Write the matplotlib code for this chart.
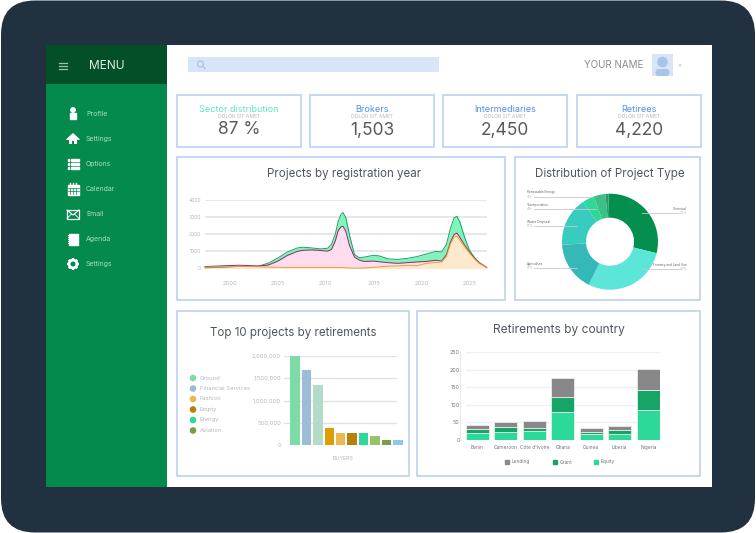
#!/usr/bin/env python3
"""Dashboard mockup: sidebar, KPI cards and four charts inside a dark frame."""
import numpy as np
import matplotlib
matplotlib.use("Agg")
import matplotlib.pyplot as plt
from matplotlib.patches import Circle, FancyBboxPatch, Polygon, Rectangle

W, H = 756, 533

FRAME = "#223140"
SIDE = "#048a4c"
SIDE_DARK = "#034f28"
BORDER = "#c5d8f3"
INK = "#4f5660"
SOFT = "#b4b8bd"
GRID = "#e2e2e2"

MENU_ITEMS = ["Profile", "Settings", "Options", "Calendar", "Email", "Agenda", "Settings"]

KPI_TITLES = ["Sector distribution", "Brokers", "Intermediaries", "Retirees"]
KPI_VALUES = ["87 %", "1,503", "2,450", "4,220"]
KPI_COLORS = ["#5fe3c8", "#4f8ff2", "#4f8ff2", "#4f8ff2"]

YEARS = [1997.4, 1999, 2001, 2003, 2004, 2005, 2006, 2007, 2007.6, 2008.5, 2009.5, 2010.2,
         2010.6, 2011, 2011.3, 2011.6, 2011.8, 2012.1, 2012.5, 2013, 2013.5, 2014, 2015,
         2015.6, 2016.5, 2017.5, 2018.5, 2019.5, 2020.5, 2021.5, 2022.1, 2022.6, 2023,
         2023.4, 2023.7, 2024, 2024.5, 2025, 2025.5, 2026, 2026.8]
AREA_TOTAL = [30, 60, 110, 130, 300, 600, 950, 1180, 1230, 1190, 1130, 1170,
              1400, 2000, 2750, 3150, 3250, 2950, 1900, 800, 620, 650, 760,
              720, 550, 520, 580, 680, 830, 990, 950, 1400, 2300,
              2950, 3030, 2700, 1800, 1050, 650, 350, 50]
AREA_MIDDLE = [100, 140, 180, 130, 190, 420, 750, 980, 1050, 1070, 1040, 1000,
               1100, 1600, 2200, 2420, 2450, 2150, 1300, 650, 480, 400, 420,
               380, 330, 290, 330, 370, 400, 470, 420, 800, 1500,
               1980, 2050, 1800, 1350, 950, 600, 320, 50]
AREA_LOWER = [60, 90, 110, 90, 70, 60, 50, 50, 50, 50, 50, 50,
              50, 50, 50, 40, 40, 30, 20, 10, 10, 20, 60,
              90, 120, 140, 170, 150, 290, 340, 370, 700, 1400,
              1830, 1880, 1650, 1250, 900, 560, 300, 50]
AREA_TICKS = [2000, 2005, 2010, 2015, 2020, 2025]

TYPE_NAMES = ["Chemical", "Forestry and Land Use", "Agriculture", "Waste Disposal",
              "Transportation", "Renewable Energy", "Other"]
TYPE_SHARES = [30, 29, 17, 17, 4, 4, 1]
TYPE_COLORS = ["#048f4e", "#5ce6d8", "#34b8b8", "#38cbbf", "#2dd996", "#3cc088", "#2c9a6c"]

TOP_VALUES = [2000000, 1680000, 1350000, 380000, 270000, 270000, 270000, 200000, 120000, 120000]
TOP_COLORS = ["#7ddba8", "#9dbdd6", "#b2dcc8", "#dc9d05", "#ecb84f",
              "#b97f0a", "#2dd899", "#93c466", "#779f45", "#8dc8ec"]
TOP_LEGEND = ["Ground", "Financial Services", "Fashion", "Empty", "Energy", "Aviation"]
TOP_LEGEND_COLORS = ["#7ddba8", "#9dbdd6", "#ecb84f", "#b97f0a", "#2dd899", "#779f45"]

COUNTRIES = ["Benin", "Cameroon", "Côte d'Ivoire", "Ghana", "Guinea", "Liberia", "Nigeria"]
EQUITY = [20, 22, 24, 79, 15, 17, 86]
GRANT = [10, 13, 9, 43, 7, 11, 55]
LENDING = [13, 15, 19, 54, 10, 11, 61]

plt.rcParams.update({
    "font.family": ["Inter", "DejaVu Sans"],
    "axes.spines.top": False,
    "axes.spines.right": False,
    "axes.spines.left": False,
    "axes.spines.bottom": False,
})


def px_axes(fig, x0, y0, x1, y1, zorder=1):
    ax = fig.add_axes([x0 / W, 1 - y1 / H, (x1 - x0) / W, (y1 - y0) / H], zorder=zorder)
    ax.patch.set_alpha(0)
    return ax


def draw_icon(ax, i, x, y):
    c = "white"
    if i == 0:
        ax.add_patch(Circle((x, y - 4), 2.2, color=c))
        ax.add_patch(Rectangle((x - 3, y - 1.5), 6, 6.5, color=c))
    elif i == 1:
        ax.add_patch(Polygon([(x - 6.5, y + 0.5), (x, y - 5.5), (x + 6.5, y + 0.5)], fc=c, ec=c, lw=0.6))
        ax.add_patch(Rectangle((x - 4, y), 8, 5, fc=c, ec="none"))
        ax.add_patch(Rectangle((x - 1.2, y + 1.5), 2.4, 3.5, fc=SIDE, ec="none"))
    elif i == 2:
        for dy in (-4, 0, 4):
            ax.add_patch(Rectangle((x - 5.5, y + dy - 0.8), 1.6, 1.6, color=c))
            ax.add_patch(Rectangle((x - 2.5, y + dy - 0.8), 8, 1.6, color=c))
    elif i == 3:
        ax.add_patch(Rectangle((x - 5.5, y - 4.5), 11, 10, color=c))
        for dx in (-3, 0, 3):
            ax.plot([x + dx, x + dx], [y - 1, y + 5], color=SIDE, lw=0.5)
            ax.plot([x + dx, x + dx], [y - 6, y - 4], color=c, lw=1)
        for dy in (-1, 2):
            ax.plot([x - 5.5, x + 5.5], [y + dy, y + dy], color=SIDE, lw=0.5)
    elif i == 4:
        ax.add_patch(Rectangle((x - 6, y - 4), 12, 8.5, fc="none", ec=c, lw=0.9))
        ax.plot([x - 6, x, x + 6], [y - 4, y + 1, y - 4], color=c, lw=0.8)
        ax.plot([x - 6, x - 1.5], [y + 4.5, y], color=c, lw=0.6)
        ax.plot([x + 6, x + 1.5], [y + 4.5, y], color=c, lw=0.6)
    elif i == 5:
        ax.add_patch(Rectangle((x - 4, y - 5.5), 9, 11, color=c))
        for dy in (-4, -2, 0, 2, 4):
            ax.plot([x - 5.5, x - 4], [y + dy, y + dy], color=c, lw=0.7)
    else:
        ax.add_patch(Circle((x, y), 4.6, color=c))
        for ang in np.arange(8) * np.pi / 4:
            ax.plot([x + 3.5 * np.cos(ang), x + 6 * np.cos(ang)],
                    [y + 3.5 * np.sin(ang), y + 6 * np.sin(ang)], color=c, lw=1.6, solid_capstyle="butt")
        ax.add_patch(Circle((x, y), 1.8, color=SIDE))


def card(ax, x0, y0, x1, y1):
    ax.add_patch(Rectangle((x0, y0), x1 - x0, y1 - y0, fc="white", ec=BORDER, lw=1.4))


def draw_layout(fig):
    ax = px_axes(fig, 0, 0, W, H, zorder=0)
    ax.set_xlim(0, W)
    ax.set_ylim(H, 0)
    ax.axis("off")

    ax.add_patch(FancyBboxPatch((1, 0.5), W - 2, H - 1, boxstyle="round,pad=0,rounding_size=34",
                                fc=FRAME, ec=FRAME, lw=0))
    ax.add_patch(Rectangle((46, 45), 666, 442, fc="white", ec="none"))
    ax.add_patch(Rectangle((46, 45), 121, 442, fc=SIDE, ec="none"))
    ax.add_patch(Rectangle((46, 45), 121, 39, fc=SIDE_DARK, ec="none"))

    for dy in (-3, 0, 3):
        ax.plot([59, 66.5], [66 + dy, 66 + dy], color="#9cc4ab", lw=0.9)
    ax.text(89, 66, "MENU", color="#dcefe4", fontsize=8.6, va="center", ha="left")
    for i, name in enumerate(MENU_ITEMS):
        y = 114 + 25 * i
        draw_icon(ax, i, 73, y)
        ax.text(86, y, name, color="#a8dcbd", fontsize=5, va="center", ha="left")

    # top bar
    ax.add_patch(Rectangle((188, 57), 251, 15, fc="#d8e5f8", ec="none"))
    ax.add_patch(Circle((200.5, 64), 3, fc="none", ec="#a9c3e8", lw=0.9))
    ax.plot([202.7, 205], [66.2, 68.5], color="#a9c3e8", lw=0.9)
    ax.text(584, 65.5, "YOUR NAME", color="#8a8a8a", fontsize=7, va="center", ha="left")
    ax.add_patch(Rectangle((652, 54), 21, 22, fc="#d8e5f8", ec="none"))
    ax.add_patch(Circle((662.5, 62), 4.6, color="#aac4e8"))
    ax.add_patch(FancyBboxPatch((655.5, 69), 14, 7, boxstyle="round,pad=0,rounding_size=3", fc="#aac4e8", ec="none"))
    ax.add_patch(Polygon([(678.5, 64.5), (681.5, 64.5), (680, 67)], fc="#a9c3e8", ec="none"))

    # KPI cards
    starts = [177, 310, 443, 577]
    for x0, title, value, color in zip(starts, KPI_TITLES, KPI_VALUES, KPI_COLORS):
        card(ax, x0, 95, x0 + 124, 147)
        cx = x0 + 62
        ax.text(cx, 110, title, color=color, fontsize=6.5, ha="center", va="center")
        ax.text(cx, 116.5, "DOLOR SIT AMET", color=SOFT, fontsize=3.6, ha="center", va="center")
        ax.text(cx, 130, value, color="#5a5a5a", fontsize=12.5, ha="center", va="center")

    # chart cards
    card(ax, 177, 157, 505, 300)
    card(ax, 515, 157, 700, 300)
    card(ax, 177, 311, 409, 476)
    card(ax, 417, 311, 700, 476)
    ax.text(344.5, 174, "Projects by registration year", color=INK, fontsize=8.3, ha="center", va="center")
    ax.text(610, 174, "Distribution of Project Type", color=INK, fontsize=8.3, ha="center", va="center")
    ax.text(293, 333, "Top 10 projects by retirements", color=INK, fontsize=8.3, ha="center", va="center")
    ax.text(559, 330.5, "Retirements by country", color=INK, fontsize=8.6, ha="center", va="center")


def draw_area(fig):
    ax = px_axes(fig, 205, 199.7, 486.7, 268.3)
    series = [(AREA_TOTAL, "#7ff5bb", "#1f9e68"),
              (AREA_MIDDLE, "#ffdcee", "#a0246a"),
              (AREA_LOWER, "#fee9cc", "#f0a030")]
    for vals, fill, edge in series:
        ax.fill_between(YEARS, 0, vals, color=fill, lw=0, zorder=2)
        ax.plot(YEARS, vals, color=edge, lw=0.7, zorder=3, clip_on=False)
    ax.set_xlim(YEARS[0], YEARS[-1])
    ax.set_ylim(0, 4000)
    ax.set_yticks([0, 1000, 2000, 3000, 4000])
    ax.set_xticks(AREA_TICKS)
    ax.grid(axis="y", color=GRID, lw=1.1)
    ax.set_axisbelow(True)
    ax.tick_params(axis="y", length=0, labelsize=3.6, labelcolor=SOFT, pad=3)
    ax.tick_params(axis="x", length=0, labelsize=4.2, labelcolor=SOFT, pad=9.5)


def draw_donut(fig):
    ax = px_axes(fig, 562, 193.7, 658, 289.7)
    ax.pie(TYPE_SHARES, colors=TYPE_COLORS, startangle=92, counterclock=False, radius=1,
           wedgeprops={"width": 0.5, "linewidth": 0})
    ax.set_xlim(-1, 1)
    ax.set_ylim(-1, 1)


def draw_overlay(fig):
    ax = px_axes(fig, 0, 0, W, H, zorder=3)
    ax.set_xlim(0, W)
    ax.set_ylim(H, 0)
    ax.axis("off")
    rows = [(0, 687, 209, 642), (1, 687, 265, 643), (2, 527, 264, 577),
            (3, 527, 222, 577), (4, 527, 205, 596), (5, 527, 192.5, 592)]
    for idx, x, y, end in rows:
        ha = "right" if x > 600 else "left"
        ax.text(x, y, TYPE_NAMES[idx], color="#666666", fontsize=2.3, ha=ha, va="center")
        ax.text(x, y + 4, f"{TYPE_SHARES[idx]}%", color=SOFT, fontsize=2.4, ha=ha, va="center")
        x_line = x + 7 if ha == "left" else x - 7
        ax.plot([x_line, end], [y + 4, y + 4], color="#c9c9c9", lw=0.6)

    # left chart legend
    for i, (name, color) in enumerate(zip(TOP_LEGEND, TOP_LEGEND_COLORS)):
        y = 378 + 10.5 * i
        ax.add_patch(Circle((193, y), 2.6, color=color))
        ax.text(200, y, name, color=SOFT, fontsize=4.2, ha="left", va="center")

    # right chart legend
    for x, name, color in [(507, "Lending", "#888888"), (555, "Grant", "#16a567"), (596, "Equity", "#2dd998")]:
        ax.add_patch(Rectangle((x - 2, 460), 4, 4, color=color))
        ax.text(x + 5, 462, name, color="#777777", fontsize=3.5, ha="left", va="center")


def draw_top(fig):
    ax = px_axes(fig, 284, 356.3, 397, 445)
    x = np.arange(len(TOP_VALUES))
    ax.bar(x, TOP_VALUES, width=0.82, color=TOP_COLORS, zorder=3, clip_on=False)
    ax.set_xlim(-0.96, 8.92)
    ax.set_ylim(0, 2000000)
    ax.set_yticks([0, 500000, 1000000, 1500000, 2000000])
    ax.set_yticklabels(["0", "500,000", "1,000,000", "1,500,000", "2,000,000"])
    ax.set_xticks([])
    ax.grid(axis="y", color=GRID, lw=1)
    ax.set_axisbelow(True)
    ax.tick_params(axis="y", length=0, labelsize=4.2, labelcolor=SOFT, pad=2)
    ax.set_xlabel("BUYERS", fontsize=3.8, color=SOFT)
    ax.xaxis.set_label_coords(0.52, -0.125)


def draw_country(fig):
    ax = px_axes(fig, 466, 352, 660, 439.7)
    x = np.arange(len(COUNTRIES))
    equity = np.array(EQUITY)
    grant = np.array(GRANT)
    lending = np.array(LENDING)
    edge = {"edgecolor": "#f4f4f4", "linewidth": 0.5, "zorder": 3}
    ax.bar(x, equity, width=0.8, color="#2dd998", **edge)
    ax.bar(x, grant, width=0.8, bottom=equity, color="#16a567", **edge)
    ax.bar(x, lending, width=0.8, bottom=equity + grant, color="#888888", **edge)
    ax.set_xlim(-0.396, 6.41)
    ax.set_ylim(0, 250)
    ax.set_yticks([0, 50, 100, 150, 200, 250])
    ax.set_xticks(x)
    ax.set_xticklabels(COUNTRIES)
    ax.grid(axis="y", color="#f0f0f0", lw=1)
    ax.set_axisbelow(True)
    ax.spines["left"].set_visible(True)
    ax.spines["left"].set_position(("outward", 4))
    ax.spines["left"].set_color("#e8e8e8")
    ax.tick_params(axis="y", length=0, labelsize=3.9, labelcolor="#777777", pad=0.5)
    ax.tick_params(axis="x", length=0, labelsize=3.5, labelcolor="#777777", pad=4)


def main():
    fig = plt.figure(figsize=(W / 100, H / 100), dpi=100, facecolor="white")
    draw_layout(fig)
    draw_area(fig)
    draw_donut(fig)
    draw_top(fig)
    draw_country(fig)
    draw_overlay(fig)
    fig.savefig("out.png", dpi=100)
    plt.close(fig)


if __name__ == "__main__":
    main()
